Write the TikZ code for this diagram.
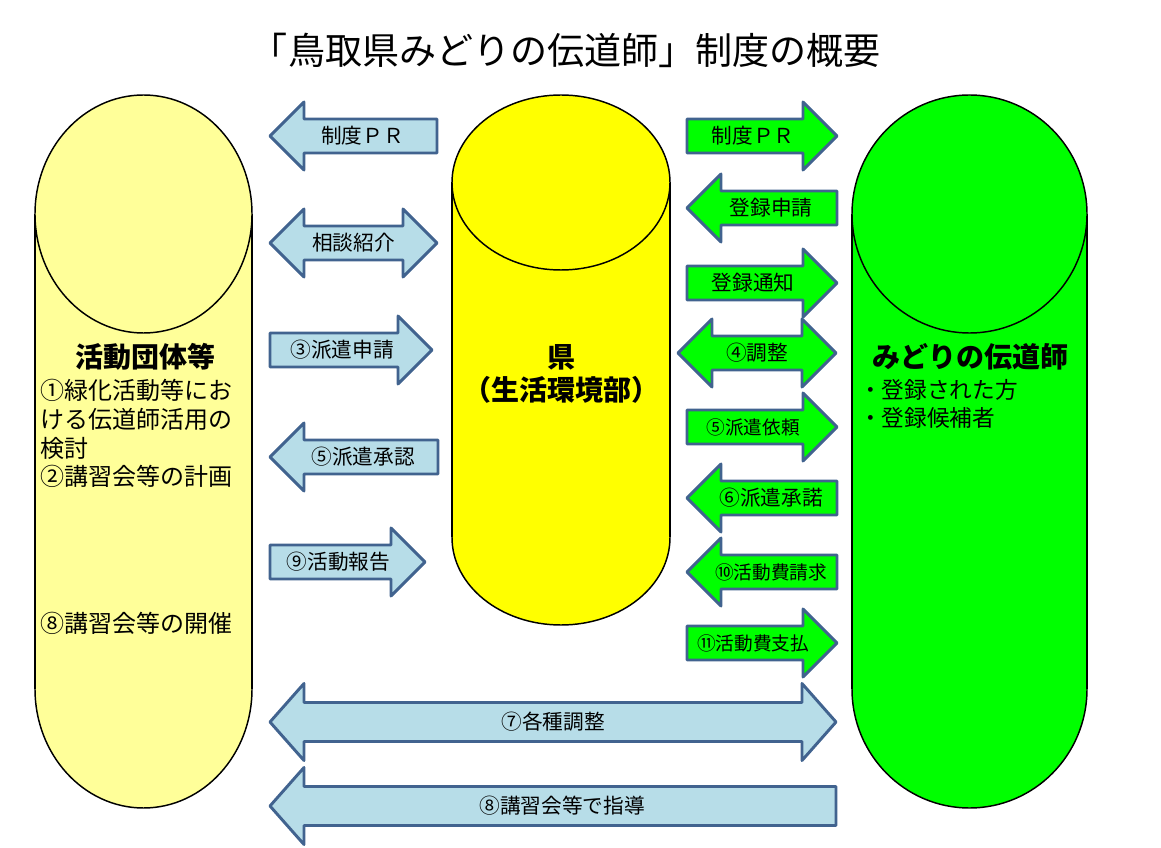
\documentclass[tikz,border=0pt]{standalone}
\usepackage{fontspec}
\setmainfont{Noto Sans CJK JP}
\usetikzlibrary{positioning}
\definecolor{mdpale}{HTML}{FFFF99}
\definecolor{mdyellow}{HTML}{FFFF00}
\definecolor{mdgreen}{HTML}{00FF00}
\definecolor{mdblue}{HTML}{B7DDE8}
\definecolor{mdedge}{HTML}{41638F}

% block arrow geometry: shaft half height, head half height, head length
\def\mdsh{17}
\def\mdhh{34}
\def\mdhl{34}

% right block arrow: style, name, x1, x2, y, text
\newcommand{\arrowR}[6]{%
  \draw[#1] (#3,#5-\mdsh) -- (#4-\mdhl,#5-\mdsh) -- (#4-\mdhl,#5-\mdhh) -- (#4,#5)
    -- (#4-\mdhl,#5+\mdhh) -- (#4-\mdhl,#5+\mdsh) -- (#3,#5+\mdsh) -- cycle;
  \node[arrowtext] (#2) at ({(#3+#4-\mdhl)/2+8},#5) {#6};}
% left block arrow
\newcommand{\arrowL}[6]{%
  \draw[#1] (#4,#5-\mdsh) -- (#3+\mdhl,#5-\mdsh) -- (#3+\mdhl,#5-\mdhh) -- (#3,#5)
    -- (#3+\mdhl,#5+\mdhh) -- (#3+\mdhl,#5+\mdsh) -- (#4,#5+\mdsh) -- cycle;
  \node[arrowtext] (#2) at ({(#3+\mdhl+#4)/2-8},#5) {#6};}
% double block arrow
\newcommand{\arrowLR}[6]{%
  \draw[#1] (#3,#5) -- (#3+\mdhl,#5-\mdhh) -- (#3+\mdhl,#5-\mdsh) -- (#4-\mdhl,#5-\mdsh)
    -- (#4-\mdhl,#5-\mdhh) -- (#4,#5) -- (#4-\mdhl,#5+\mdhh) -- (#4-\mdhl,#5+\mdsh)
    -- (#3+\mdhl,#5+\mdsh) -- (#3+\mdhl,#5+\mdhh) -- cycle;
  \node[arrowtext] (#2) at ({(#3+#4)/2},#5) {#6};}
% cylinder: fill, x centre, x radius, top centre y, bottom centre y, y radius
\newcommand{\drum}[6]{%
  \draw[drumline, fill=#1] (#2,#5) ellipse[x radius=#3, y radius=#6];
  \fill[#1] (#2-#3,#4) rectangle (#2+#3,#5);
  \draw[drumline] (#2-#3,#4) -- (#2-#3,#5) (#2+#3,#4) -- (#2+#3,#5);
  \draw[drumline, fill=#1] (#2,#4) ellipse[x radius=#3, y radius=#6];}

\begin{document}
\begin{tikzpicture}[
    x=0.75pt, y=-0.75pt,
    bluearrow/.style={draw=mdedge, fill=mdblue, line width=2.2pt, line join=round},
    greenarrow/.style={draw=mdedge, fill=mdgreen, line width=2.2pt, line join=round},
    arrowtext/.style={inner sep=0pt, font=\fontsize{15.5}{18}\selectfont},
    drumline/.style={draw=black, line width=1.1pt},
    headtext/.style={inner sep=0pt, font=\fontsize{21}{25}\selectfont\bfseries},
    bodytext/.style={inner sep=0pt, font=\fontsize{18}{21.6}\selectfont, align=left}
  ]
  \useasboundingbox (0,0) rectangle (1161,848);

  \node[inner sep=0pt, font=\fontsize{27.8}{32}\selectfont] (title) at (566,50)
    {「鳥取県みどりの伝道師」制度の概要};

  % the three cylinders
  \drum{mdpale}{143.5}{108.5}{214}{689}{119}
  \drum{mdyellow}{561}{109}{182.5}{537.5}{87.5}
  \drum{mdgreen}{969.5}{117.5}{214}{689}{119}

  \node[headtext] (dantai) at (145,357) {活動団体等};
  \node[bodytext, anchor=north west] (dantaitask) at (40,379)
    {①緑化活動等にお\\ける伝道師活用の\\検討\\②講習会等の計画};
  \node[bodytext, anchor=west] (dantaikaisai) at (40,623) {⑧講習会等の開催};

  \node[headtext, align=center] (ken) at (561,374) {県\\（生活環境部）};

  \node[headtext] (dendoshi) at (970,357) {みどりの伝道師};
  \node[bodytext, anchor=west, font=\fontsize{17}{21.5}\selectfont] (toroku) at (859,404)
    {・登録された方\\・登録候補者};

  % between groups and the prefecture
  \arrowL{bluearrow}{prleft}{270}{437}{136}{制度ＰＲ}
  \arrowLR{bluearrow}{sodan}{270}{437}{243}{相談紹介}
  \arrowR{bluearrow}{haken}{270}{432}{350}{③派遣申請}
  \arrowL{bluearrow}{shonin}{270}{438}{457}{⑤派遣承認}
  \arrowR{bluearrow}{hokoku}{270}{425}{562}{⑨活動報告}

  % between the prefecture and the instructors
  \arrowR{greenarrow}{prright}{687}{837}{136}{制度ＰＲ}
  \arrowL{greenarrow}{shinsei}{687}{837}{208}{登録申請}
  \arrowR{greenarrow}{tsuchi}{687}{837}{283}{登録通知}
  \arrowLR{greenarrow}{chosei}{678}{836}{353}{④調整}
  \arrowR{greenarrow}{irai}{687}{837}{427}{\fontsize{14}{17}\selectfont⑤派遣依頼}
  \arrowL{greenarrow}{shodaku}{687}{837}{498}{⑥派遣承諾}
  \arrowL{greenarrow}{seikyu}{687}{837}{572}{\fontsize{14}{17}\selectfont⑩活動費請求}
  \arrowR{greenarrow}{shiharai}{687}{837}{643}{\fontsize{14}{17}\selectfont⑪活動費支払}

  % long arrows at the bottom
  \def\mdsh{19.5}
  \def\mdhh{38.5}
  \arrowLR{bluearrow}{kakushu}{270}{836}{722}{⑦各種調整}
  \arrowL{bluearrow}{shido}{270}{836}{806}{⑧講習会等で指導}
\end{tikzpicture}
\end{document}
